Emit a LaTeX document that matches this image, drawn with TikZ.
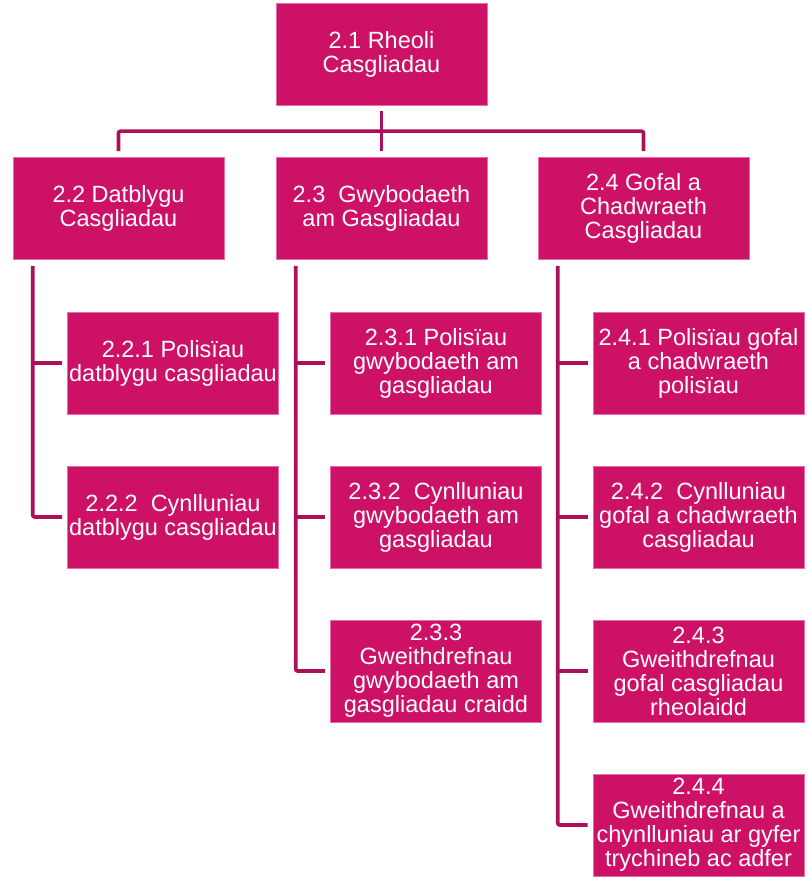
\documentclass[tikz,border=0pt]{standalone}
\usepackage{fontspec}
\setmainfont{Liberation Sans}
\definecolor{boxfill}{RGB}{204,17,102}
\definecolor{boxedge}{RGB}{226,110,165}
\definecolor{linecol}{RGB}{172,16,88}
\tikzset{
  orgbox/.style={rectangle, fill=boxfill, draw=boxedge, line width=0.6pt,
    minimum width=211pt, minimum height=102pt, inner sep=0pt, align=center,
    text=white, font=\fontsize{23.5}{24}\selectfont},
  conn/.style={draw=linecol, line width=3.6pt, rounded corners=2pt}
}
\begin{document}
\begin{tikzpicture}[x=1pt,y=1pt]
\useasboundingbox (0,0) rectangle (808,-877);
\node[orgbox] (top) at (381.5,-54.5) {2.1 Rheoli\\Casgliadau};
\node[orgbox] (n22) at (118.5,-208.5) {2.2 Datblygu\\Casgliadau};
\node[orgbox] (n23) at (381.5,-208.5) {2.3\ \ Gwybodaeth\\am Gasgliadau};
\node[orgbox] (n24) at (643.5,-208.5) {2.4 Gofal a\\Chadwraeth\\Casgliadau};
\node[orgbox] (n221) at (173,-363) {2.2.1 Polisïau\\datblygu casgliadau};
\node[orgbox] (n222) at (173,-517) {2.2.2\ \ Cynlluniau\\datblygu casgliadau};
\node[orgbox] (n231) at (436,-363) {2.3.1 Polisïau\\gwybodaeth am\\gasgliadau};
\node[orgbox] (n232) at (436,-517) {2.3.2\ \ Cynlluniau\\gwybodaeth am\\gasgliadau};
\node[orgbox] (n233) at (436,-671) {2.3.3\\Gweithdrefnau\\gwybodaeth am\\gasgliadau craidd};
\node[orgbox] (n241) at (698.5,-363) {2.4.1 Polisïau gofal\\a chadwraeth\\polisïau};
\node[orgbox] (n242) at (698.5,-517) {2.4.2\ \ Cynlluniau\\gofal a chadwraeth\\casgliadau};
\node[orgbox] (n243) at (698.5,-671) {2.4.3\\Gweithdrefnau\\gofal casgliadau\\rheolaidd};
\node[orgbox] (n244) at (698.5,-825) {2.4.4\\Gweithdrefnau a\\chynlluniau ar gyfer\\trychineb ac adfer};
% top level connectors
\draw[conn] ([yshift=6pt]n22.north) -- ([yshift=26pt]n22.north) -- ([yshift=26pt]n24.north) -- ([yshift=6pt]n24.north);
\draw[conn] ([yshift=-5pt]top.south) -- ([yshift=6pt]n23.north);
% column 2.2
\draw[conn] ([xshift=20pt,yshift=-6pt]n22.south west) |- ([xshift=-5pt]n222.west);
\draw[conn] ([xshift=20pt]n22.south west |- n221.west) -- ([xshift=-5pt]n221.west);
% column 2.3
\draw[conn] ([xshift=20pt,yshift=-6pt]n23.south west) |- ([xshift=-5pt]n233.west);
\draw[conn] ([xshift=20pt]n23.south west |- n231.west) -- ([xshift=-5pt]n231.west);
\draw[conn] ([xshift=20pt]n23.south west |- n232.west) -- ([xshift=-5pt]n232.west);
% column 2.4
\draw[conn] ([xshift=20pt,yshift=-6pt]n24.south west) |- ([xshift=-5pt]n244.west);
\draw[conn] ([xshift=20pt]n24.south west |- n241.west) -- ([xshift=-5pt]n241.west);
\draw[conn] ([xshift=20pt]n24.south west |- n242.west) -- ([xshift=-5pt]n242.west);
\draw[conn] ([xshift=20pt]n24.south west |- n243.west) -- ([xshift=-5pt]n243.west);
\end{tikzpicture}
\end{document}
